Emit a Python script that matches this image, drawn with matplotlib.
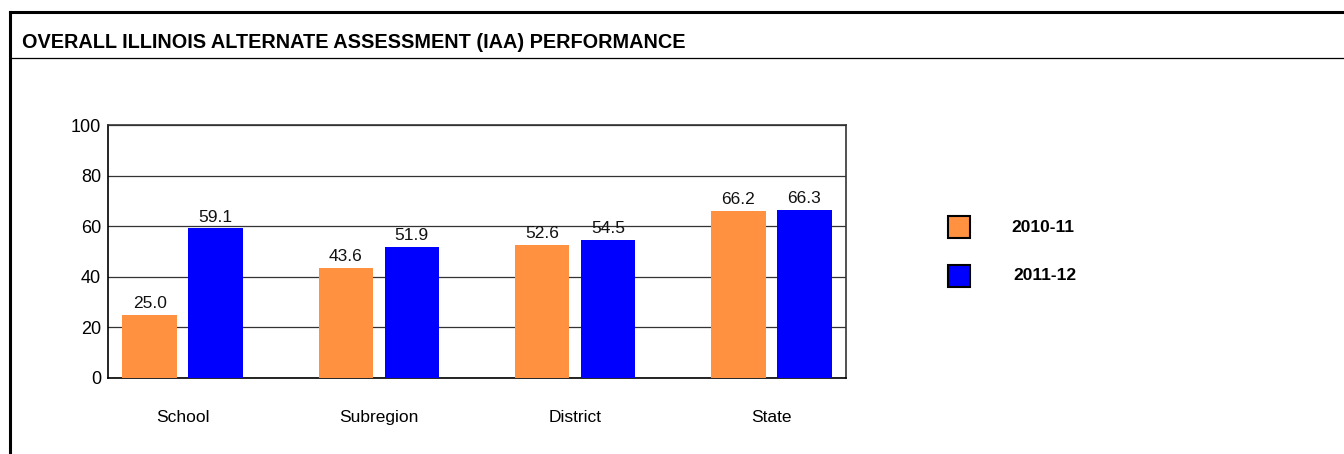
import numpy as np
from matplotlib import pyplot as plt
from matplotlib.lines import Line2D
from matplotlib.patches import Rectangle

categorias = ['School', 'Subregion', 'District', 'State']
valores_2010 = [25.0, 43.6, 52.6, 66.2]
valores_2011 = [59.1, 51.9, 54.5, 66.3]
anos = ['2010-11', '2011-12']
cores = ['#ff9140', '#0000ff']

plt.rcParams['font.family'] = ['Liberation Sans', 'DejaVu Sans']

W, H = 1344, 454
fig = plt.figure(figsize=(W / 100, H / 100), dpi=100)

# moldura externa
fig.add_artist(Line2D([10 / W, 10 / W], [0, 1 - 12 / H], color='black', lw=2.2))
fig.add_artist(Line2D([10 / W, 1], [1 - 12 / H, 1 - 12 / H], color='black', lw=2.2))
fig.add_artist(Line2D([10 / W, 1], [1 - 58 / H, 1 - 58 / H], color='black', lw=0.9))

fig.text(22 / W, 1 - 42 / H, 'OVERALL ILLINOIS ALTERNATE ASSESSMENT (IAA) PERFORMANCE',
         fontweight='bold', fontsize=14.3, va='center', ha='left')

ax = fig.add_axes([108 / W, 1 - 378 / H, (846 - 108) / W, (378 - 125) / H])

x = np.arange(len(categorias))
largura = 0.277
desloc = 0.168

b1 = ax.bar(x - desloc, valores_2010, largura, color=cores[0], zorder=3)
b2 = ax.bar(x + desloc, valores_2011, largura, color=cores[1], zorder=3)

for barras, vals in [(b1, valores_2010), (b2, valores_2011)]:
    for b, v in zip(barras, vals):
        ax.text(b.get_x() + b.get_width() / 2, v + 1.5, f'{v:.1f}',
                ha='center', va='bottom', fontsize=12.5, color='#111111')

ax.set_xlim(-0.38, 3.38)
ax.set_ylim(0, 100)
ax.set_yticks([0, 20, 40, 60, 80, 100])
ax.yaxis.grid(True, color='#333333', lw=0.9, zorder=0)
ax.set_xticks(x)
ax.set_xticklabels(categorias, fontsize=12.5)
ax.tick_params(axis='x', length=0, pad=23)
ax.tick_params(axis='y', length=0, pad=5, labelsize=13)
for s in ax.spines.values():
    s.set_color('#333333')
    s.set_linewidth(1.2)
ax.spines['left'].set_color('black')
ax.spines['bottom'].set_color('black')

# legenda
for i, (ano, cor) in enumerate(zip(anos, cores)):
    y0 = [216, 265][i]
    fig.add_artist(Rectangle((948 / W, 1 - (y0 + 22) / H), 22 / W, 22 / H,
                             facecolor=cor, edgecolor='black', lw=1.5))
    fig.text([1011, 1013][i] / W, 1 - (y0 + 11) / H, ano, fontweight='bold',
             fontsize=12.5, va='center', ha='left')

plt.savefig('out.png', dpi=100)
plt.close(fig)
